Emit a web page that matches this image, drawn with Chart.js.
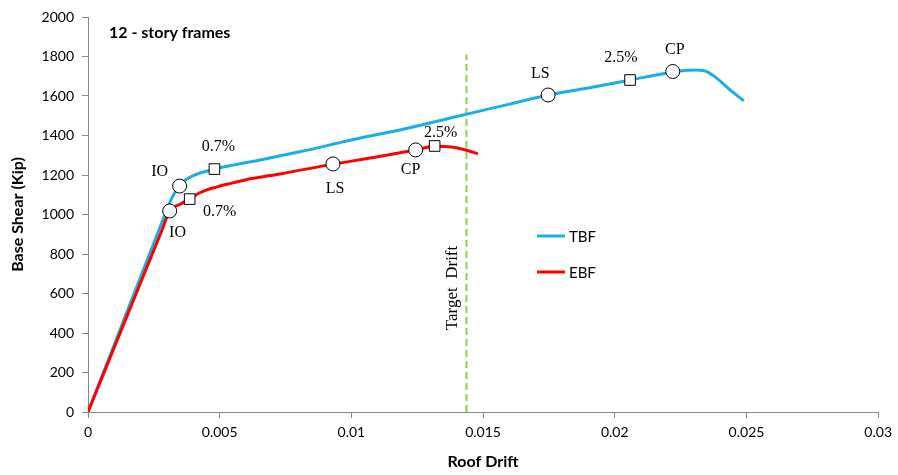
<!DOCTYPE html>
<html>
<head>
<meta charset="utf-8">
<script src="https://cdn.jsdelivr.net/npm/chart.js@4"></script>
<style>
  html, body { margin: 0; padding: 0; background: #fff; }
  #wrap { width: 898px; height: 475px; }
</style>
</head>
<body>
<div id="wrap"><canvas id="micanvas"></canvas></div>
<script>
// pushover curves (roof drift, base shear in kip)
let tbfX = [0, 0.001, 0.002, 0.0028, 0.00305, 0.0032, 0.0034, 0.0037, 0.00405, 0.0048, 0.0055, 0.0065, 0.008, 0.01, 0.012, 0.014, 0.016, 0.0175, 0.019, 0.0206, 0.022, 0.023, 0.0234, 0.0238, 0.0243, 0.0249];
let tbfY = [0, 342, 685, 958, 1042, 1088, 1134, 1175, 1200, 1230, 1250, 1275, 1316, 1377, 1433, 1496, 1559, 1605, 1641, 1681, 1717, 1732, 1728, 1698, 1640, 1575];
let ebfX = [0, 0.001, 0.002, 0.0028, 0.0031, 0.0035, 0.00386, 0.00424, 0.0049, 0.0055, 0.006, 0.0074, 0.0093, 0.011, 0.0124, 0.0132, 0.0138, 0.0143, 0.0148];
let ebfY = [0, 328, 656, 918, 1018, 1052, 1078, 1110, 1140, 1160, 1176, 1208, 1255, 1292, 1326, 1346, 1342, 1328, 1307];

// performance points
let circX = [0.00348, 0.01747, 0.0222, 0.0031, 0.0093, 0.01244];
let circY = [1144, 1605, 1724, 1018, 1256, 1327];
let sqX = [0.0048, 0.02058, 0.00386, 0.01316];
let sqY = [1230, 1681, 1078, 1347];

// point labels
let lblText = ["IO", "0.7%", "IO", "0.7%", "LS", "CP", "2.5%", "LS", "2.5%", "CP"];
let lblX = [0.00272, 0.00495, 0.0034, 0.005, 0.00938, 0.01225, 0.01339, 0.01717, 0.02023, 0.02228];
let lblY = [1215, 1342, 906, 1013, 1129, 1225, 1413, 1711, 1792, 1833];

let targetDrift = 0.01437;
let targetTop = 1810;

let xTicks = [0, 0.005, 0.01, 0.015, 0.02, 0.025, 0.03];
let yTicks = [0, 200, 400, 600, 800, 1000, 1200, 1400, 1600, 1800, 2000];

function pares(xs, ys) { return xs.map((x, i) => ({x: x, y: ys[i]})); }

const sans = "Lato, 'Liberation Sans', sans-serif";
const serif = "'Liberation Serif', 'DejaVu Serif', serif";

let extras = {
  id: 'extras',
  afterDatasetsDraw(chart) {
    let c = chart.ctx, xs = chart.scales.x, ys = chart.scales.y;
    c.save();
    c.fillStyle = '#000';
    c.font = '16px ' + serif;
    c.textAlign = 'center';
    c.textBaseline = 'middle';
    lblText.forEach((t, i) => c.fillText(t, xs.getPixelForValue(lblX[i]), ys.getPixelForValue(lblY[i])));
    // target drift label
    c.save();
    c.translate(xs.getPixelForValue(0.01385), ys.getPixelForValue(628));
    c.rotate(-Math.PI / 2);
    c.font = '17px ' + serif;
    c.fillText('Target  Drift', 0, 0);
    c.restore();
    // title
    c.font = 'bold 16px ' + sans;
    c.textAlign = 'left';
    c.fillText('12 - story frames', 109, 33);
    // legend
    c.lineWidth = 3;
    c.strokeStyle = '#1aaee5';
    c.beginPath(); c.moveTo(537, 236); c.lineTo(565, 236); c.stroke();
    c.strokeStyle = '#ff0000';
    c.beginPath(); c.moveTo(537, 272); c.lineTo(565, 272); c.stroke();
    c.font = '15px ' + sans;
    c.fillText('TBF', 569, 237);
    c.fillText('EBF', 569, 273);
    c.restore();
  }
};

let contexto = document.getElementById('micanvas').getContext('2d');
let opciones = {
  type: 'scatter',
  data: {
    datasets: [
      { label: 'CircPts', data: pares(circX, circY), pointStyle: 'circle', pointRadius: 7,
        backgroundColor: '#fff', borderColor: '#000', borderWidth: 1, showLine: false, order: 0 },
      { label: 'SqPts', data: pares(sqX, sqY), pointStyle: 'rect', pointRadius: 7.5,
        backgroundColor: '#fff', borderColor: '#000', borderWidth: 1, showLine: false, order: 0 },
      { label: 'TBF', data: pares(tbfX, tbfY), showLine: true, borderColor: '#1aaee5', borderWidth: 3,
        pointRadius: 0, cubicInterpolationMode: 'monotone', order: 2 },
      { label: 'EBF', data: pares(ebfX, ebfY), showLine: true, borderColor: '#ff0000', borderWidth: 3,
        pointRadius: 0, cubicInterpolationMode: 'monotone', order: 1 },
      { label: 'Target', data: [{x: targetDrift, y: 0}, {x: targetDrift, y: targetTop}], showLine: true,
        borderColor: '#92d050', borderWidth: 2, borderDash: [7, 4], pointRadius: 0, order: 3 }
    ]
  },
  options: {
    responsive: true,
    maintainAspectRatio: false,
    animation: false,
    layout: { padding: { top: 17, right: 17, left: 0, bottom: 0 } },
    plugins: { legend: { display: false }, tooltip: { enabled: false } },
    scales: {
      x: {
        type: 'linear', min: 0, max: 0.03,
        afterBuildTicks: s => { s.ticks = xTicks.map(v => ({value: v})); },
        afterFit: s => { s.height = 63; },
        ticks: { color: '#000', font: { family: sans, size: 14 }, padding: 6,
          callback: v => String(+v.toFixed(3)) },
        grid: { drawOnChartArea: false, tickLength: 6, color: '#868686' },
        border: { color: '#868686', width: 1 },
        title: { display: true, text: 'Roof Drift', color: '#000', font: { family: sans, size: 16, weight: 'bold' }, padding: { top: 4 } }
      },
      y: {
        min: 0, max: 2000,
        afterBuildTicks: s => { s.ticks = yTicks.map(v => ({value: v})); },
        afterFit: s => { s.width = 88; },
        ticks: { color: '#000', font: { family: sans, size: 14 }, padding: 8,
          callback: v => String(v) },
        grid: { drawOnChartArea: false, tickLength: 6, color: '#868686' },
        border: { color: '#868686', width: 1 },
        title: { display: true, text: 'Base Shear (Kip)', color: '#000', font: { family: sans, size: 16, weight: 'bold' }, padding: { top: 8, bottom: 2 } }
      }
    }
  },
  plugins: [extras]
};

let grafica = new Chart(contexto, opciones);
</script>
</body>
</html>
